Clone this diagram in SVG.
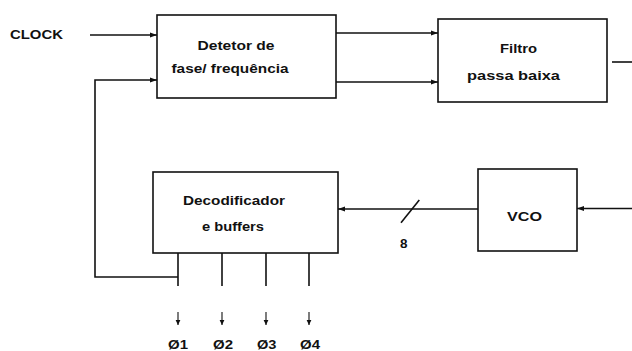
<svg xmlns="http://www.w3.org/2000/svg" width="632" height="351" viewBox="0 0 632 351">
<defs>
<marker id="ah" markerUnits="userSpaceOnUse" markerWidth="8" markerHeight="6" refX="7" refY="3" orient="auto">
<path d="M0,0.5 L7,3 L0,5.5 Z" fill="#111"/>
</marker>
<marker id="ahs" markerUnits="userSpaceOnUse" markerWidth="6" markerHeight="6" refX="5" refY="3" orient="auto">
<path d="M0,0.6 L5,3 L0,5.4 Z" fill="#111"/>
</marker>
</defs>
<style>
.box{fill:#fff;stroke:#111;stroke-width:1.6}
.t{font-family:"Liberation Sans",Arial,sans-serif;font-weight:bold;font-size:13.5px;fill:#111}
.ln{fill:none;stroke:#111;stroke-width:1.6}
.thin{fill:none;stroke:#111;stroke-width:1.1}
</style>
<rect width="632" height="351" fill="#fff"/>
<g id="connectors">
<line class="ln" x1="90" y1="35" x2="157" y2="35" marker-end="url(#ah)"/>
<polyline class="ln" points="178,277 95,277 95,80 157,80" marker-end="url(#ah)"/>
<line class="ln" x1="336" y1="33" x2="438" y2="33" marker-end="url(#ah)"/>
<line class="ln" x1="336" y1="82" x2="438" y2="82" marker-end="url(#ah)"/>
<line class="ln" x1="612" y1="62" x2="632" y2="62"/>
<line class="ln" x1="632" y1="208.5" x2="577" y2="208.5" marker-end="url(#ah)"/>
<line class="ln" x1="478" y1="209" x2="338" y2="209" marker-end="url(#ah)"/>
<line class="ln" x1="401" y1="222.7" x2="419.3" y2="200"/>
<line class="ln" x1="178" y1="253" x2="178" y2="286"/>
<line class="ln" x1="222" y1="253" x2="222" y2="286"/>
<line class="ln" x1="266" y1="253" x2="266" y2="286"/>
<line class="ln" x1="309" y1="253" x2="309" y2="286"/>
<line class="thin" x1="178" y1="312" x2="178" y2="325" marker-end="url(#ahs)"/>
<line class="thin" x1="222" y1="312" x2="222" y2="325" marker-end="url(#ahs)"/>
<line class="thin" x1="266" y1="312" x2="266" y2="325" marker-end="url(#ahs)"/>
<line class="thin" x1="309" y1="312" x2="309" y2="325" marker-end="url(#ahs)"/>
<text class="t" x="400" y="247.5" textLength="7.5" lengthAdjust="spacingAndGlyphs">8</text>
</g>
<g id="clock">
<text class="t" x="10" y="39" textLength="53" lengthAdjust="spacingAndGlyphs">CLOCK</text>
</g>
<g id="detetor">
<rect class="box" x="157" y="15" width="179" height="83"/>
<text class="t" x="197.5" y="49.5" textLength="77" lengthAdjust="spacingAndGlyphs">Detetor de</text>
<text class="t" x="171.5" y="73" textLength="117" lengthAdjust="spacingAndGlyphs">fase/ frequência</text>
</g>
<g id="filtro">
<rect class="box" x="438" y="19" width="169" height="83"/>
<text class="t" x="500" y="53" textLength="37" lengthAdjust="spacingAndGlyphs">Filtro</text>
<text class="t" x="467" y="80" textLength="93" lengthAdjust="spacingAndGlyphs">passa  baixa</text>
</g>
<g id="decodificador">
<rect class="box" x="153" y="172" width="185" height="81"/>
<text class="t" x="183" y="205" textLength="102" lengthAdjust="spacingAndGlyphs">Decodificador</text>
<text class="t" x="202" y="230.5" textLength="62" lengthAdjust="spacingAndGlyphs">e buffers</text>
</g>
<g id="vco">
<rect class="box" x="478" y="169" width="99" height="82"/>
<text class="t" x="507" y="220.5" textLength="35" lengthAdjust="spacingAndGlyphs">VCO</text>
</g>
<g id="outputs">
<text class="t" x="168" y="348.5" textLength="20" lengthAdjust="spacingAndGlyphs">Ø1</text>
<text class="t" x="213" y="348.5" textLength="20" lengthAdjust="spacingAndGlyphs">Ø2</text>
<text class="t" x="257" y="348.5" textLength="19.5" lengthAdjust="spacingAndGlyphs">Ø3</text>
<text class="t" x="300" y="348.5" textLength="20" lengthAdjust="spacingAndGlyphs">Ø4</text>
</g>
</svg>
